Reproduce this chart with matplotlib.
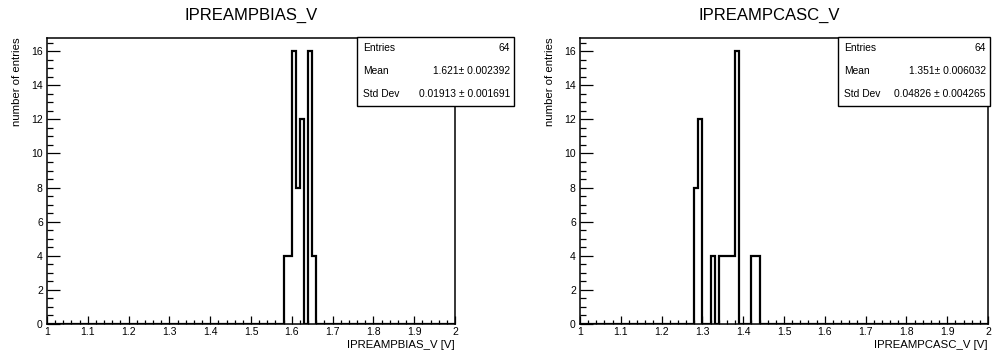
import matplotlib
matplotlib.use("Agg")
import matplotlib.pyplot as plt
from matplotlib.patches import Rectangle
from matplotlib.ticker import MultipleLocator
import numpy as np

plt.rcParams['font.family'] = ['Liberation Sans', 'DejaVu Sans']

# Histogram contents (bin width 0.01, range 1 - 2 V), only non-empty region listed
bias_bin_lo = [1.58, 1.59, 1.60, 1.61, 1.62, 1.63, 1.64, 1.65]
bias_counts = [4, 4, 16, 8, 12, 0, 16, 4]

casc_bin_lo = [1.28, 1.29, 1.30, 1.31, 1.32, 1.33, 1.34, 1.35, 1.36, 1.37, 1.38, 1.39, 1.40, 1.41, 1.42, 1.43]
casc_counts = [8, 12, 0, 0, 4, 0, 4, 4, 4, 4, 16, 0, 0, 0, 4, 4]

titles = ["IPREAMPBIAS_V", "IPREAMPCASC_V"]
xlabels = ["IPREAMPBIAS_V [V]", "IPREAMPCASC_V [V]"]
stats = [
    [("Entries", "64"), ("Mean", "1.621\u00b1 0.002392"), ("Std Dev", "0.01913 \u00b1 0.001691")],
    [("Entries", "64"), ("Mean", "1.351\u00b1 0.006032"), ("Std Dev", "0.04826 \u00b1 0.004265")],
]

NBINS, XMIN, XMAX = 100, 1.0, 2.0

W, H = 992, 356
fig = plt.figure(figsize=(W / 100, H / 100), dpi=100)

frame_left = [47, 580]
frame_right = [455, 988]
frame_top, frame_bot = 37.5, 324
title_x = [251, 769]
box_x = [(357, 514), (838, 990)]
box_y = (37, 106)


def fill_hist(bin_lo, counts):
    edges = np.linspace(XMIN, XMAX, NBINS + 1)
    h = np.zeros(NBINS)
    for lo, c in zip(bin_lo, counts):
        h[int(round((lo - XMIN) / 0.01))] = c
    return edges, h


for i, (lo, cnt) in enumerate([(bias_bin_lo, bias_counts), (casc_bin_lo, casc_counts)]):
    ax = fig.add_axes([frame_left[i] / W, 1 - frame_bot / H,
                       (frame_right[i] - frame_left[i]) / W, (frame_bot - frame_top) / H])
    edges, h = fill_hist(lo, cnt)
    ax.stairs(h, edges, color='black', lw=1.6, baseline=0)
    ax.set_xlim(XMIN, XMAX)
    ax.set_ylim(0, 16.8)
    ax.xaxis.set_major_locator(MultipleLocator(0.1))
    ax.xaxis.set_minor_locator(MultipleLocator(0.02))
    ax.yaxis.set_major_locator(MultipleLocator(2))
    ax.yaxis.set_minor_locator(MultipleLocator(0.5))
    ax.xaxis.set_major_formatter(plt.FuncFormatter(lambda v, p: f"{v:g}"))
    ax.tick_params(axis='x', which='major', direction='in', length=5.5, width=0.9,
                   labelsize=7.5, pad=2)
    ax.tick_params(axis='x', which='minor', direction='in', length=2.8, width=0.9)
    ax.tick_params(axis='y', which='major', direction='in', length=9, width=0.9,
                   labelsize=7.5, pad=3)
    ax.tick_params(axis='y', which='minor', direction='in', length=4.5, width=0.9)
    for s in ax.spines.values():
        s.set_linewidth(1.1)

    fig.text(title_x[i] / W, 1 - 15 / H, titles[i], ha='center', va='center', fontsize=12)
    fig.text(frame_right[i] / W, 1 - 345 / H, xlabels[i], ha='right', va='center', fontsize=8.2)
    fig.text((frame_left[i] - 30) / W, 1 - frame_top / H, "number of entries",
             rotation=90, ha='center', va='top', fontsize=8.2)

    # stats box
    x0, x1 = box_x[i]
    y0, y1 = box_y
    fig.add_artist(Rectangle((x0 / W, 1 - y1 / H), (x1 - x0) / W, (y1 - y0) / H,
                             transform=fig.transFigure, facecolor='white',
                             edgecolor='black', lw=1.0, zorder=5))
    row_y = [48, 71.5, 94]
    for (lab, val), ry in zip(stats[i], row_y):
        fig.text((x0 + 6) / W, 1 - ry / H, lab, ha='left', va='center', fontsize=7.4, zorder=6)
        fig.text((x1 - 4) / W, 1 - ry / H, val, ha='right', va='center', fontsize=7.4, zorder=6)

fig.savefig("out.png", dpi=100)
